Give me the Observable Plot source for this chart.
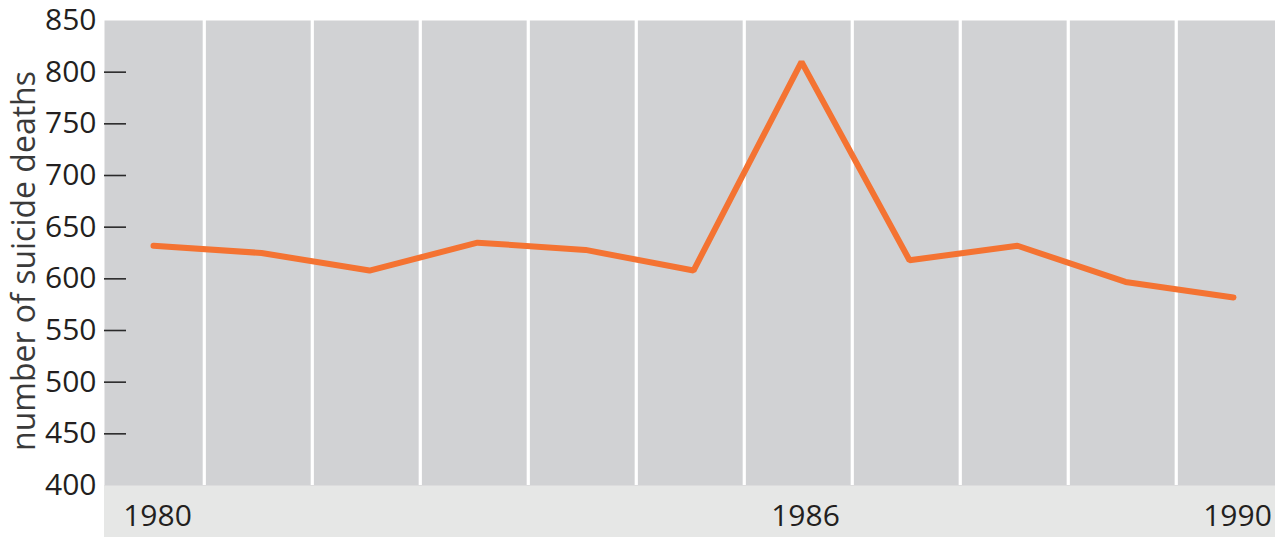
<!DOCTYPE html>
<html>
<head>
<meta charset="utf-8">
<script src="https://cdn.jsdelivr.net/npm/d3@7"></script>
<script src="https://cdn.jsdelivr.net/npm/@observablehq/plot@0.6"></script>
<style>
  html, body { margin: 0; padding: 0; background: #ffffff; }
  #chart { width: 1275px; height: 537px; overflow: hidden; }
</style>
</head>
<body>
<div id="chart"></div>
<script>
// ---- data ----
const years = [1980, 1981, 1982, 1983, 1984, 1985, 1986, 1987, 1988, 1989, 1990];
const deaths = [632, 625, 608, 635, 628, 608, 810, 618, 632, 597, 582];
const yTickValues = [400, 450, 500, 550, 600, 650, 700, 750, 800, 850];
const xTickLabels = [1980, 1986, 1990];
const yTitle = "number of suicide deaths";

// ---- layout ----
const W = 1275, H = 537;
const mL = 104, mR = 0, mT = 20, mB = 52;

const data = years.map((y, i) => ({year: y, deaths: deaths[i]}));
const separators = years.slice(0, -1).map(y => y + 0.47);

const chart = Plot.plot({
  width: W,
  height: H,
  marginLeft: mL,
  marginRight: mR,
  marginTop: mT,
  marginBottom: mB,
  style: {fontFamily: "'Open Sans', sans-serif", background: "transparent", overflow: "visible"},
  x: {domain: [1979.546, 1990.389]},
  y: {domain: [400, 850]},
  marks: [
    Plot.frame({fill: "#d1d2d4", stroke: "none"}),
    Plot.ruleX(separators, {stroke: "#ffffff", strokeWidth: 3.2}),
    Plot.axisY({
      ticks: yTickValues.filter(t => t > 400 && t < 850),
      tickSize: 22, dx: 22, tickFormat: () => "",
      stroke: "#2a2a2a", strokeWidth: 1.6, label: null
    }),
    Plot.axisY({
      ticks: yTickValues, tickSize: 0, tickPadding: 8,
      fontSize: 30, fill: "#231f20", label: null, tickFormat: d => String(d)
    }),
    Plot.axisX({
      ticks: xTickLabels, tickSize: 0, tickPadding: 19, dx: 4,
      fontSize: 30, fill: "#231f20", label: null, tickFormat: d => String(d)
    }),
    Plot.line(data, {
      x: "year", y: "deaths",
      stroke: "#f47332", strokeWidth: 6,
      strokeLinejoin: "miter", strokeLinecap: "round"
    }),
    Plot.text([yTitle], {
      frameAnchor: "left", rotate: -90, dx: -80, dy: 8,
      textAnchor: "middle", lineAnchor: "middle",
      fontSize: 32, fill: "#3a3a3a"
    })
  ]
});

// light band under the plot area (behind everything)
d3.select(chart).insert("rect", ":first-child")
  .attr("x", mL).attr("y", H - mB)
  .attr("width", W - mL - mR).attr("height", mB)
  .attr("fill", "#e6e7e6");

document.getElementById("chart").appendChild(chart);
</script>
</body>
</html>
